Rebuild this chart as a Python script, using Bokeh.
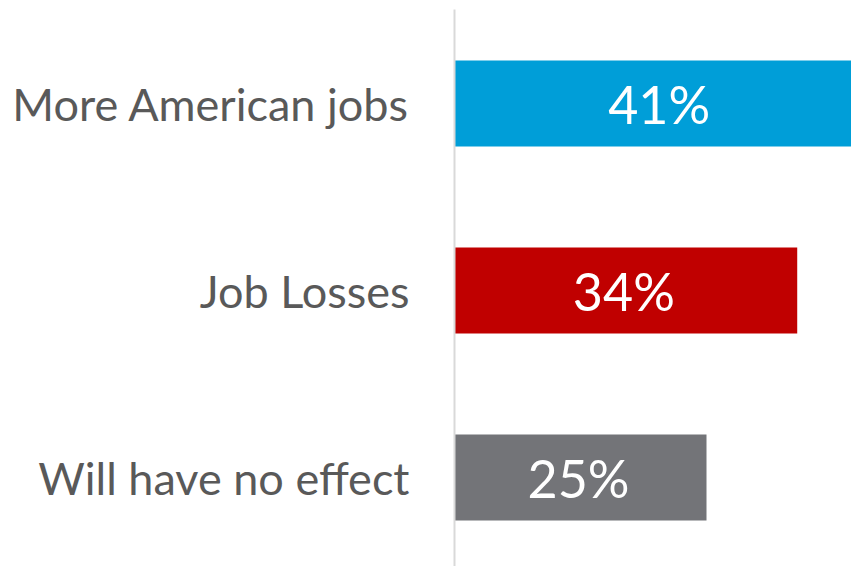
from bokeh.plotting import figure
from bokeh.models import Range1d, ColumnDataSource
from bokeh.core.properties import value
from bokeh.embed import file_html
from bokeh.resources import INLINE

categories = ["More American jobs", "Job Losses", "Will have no effect"]
values = [41, 34, 25]
colors = ["#009ED8", "#C00000", "#737478"]
value_labels = ["41%", "34%", "25%"]

idx = list(range(len(categories)))
src = ColumnDataSource(dict(
    y=idx, v=values, c=colors, cat=categories, lab=value_labels,
    mid=[v / 2 for v in values], zero=[0] * len(values)))

W, H = 851, 566
px_per = 10.08
x0_px = 454
top = -103 / 187.0
p = figure(width=W, height=H, output_backend="svg", toolbar_location=None,
           x_range=Range1d(-x0_px / px_per, (W - x0_px) / px_per),
           y_range=Range1d(top + H / 187.0, top),
           min_border=0, min_border_left=0, min_border_right=0,
           min_border_top=0, min_border_bottom=0)
p.axis.visible = False
p.grid.visible = False
p.outline_line_color = None
p.background_fill_color = "white"

p.hbar(y="y", left=0, right="v", height=0.46, fill_color="c", line_color=None, source=src)
p.segment(x0=[0], y0=[top + 9 / 187.0], x1=[0], y1=[top + H / 187.0],
          line_color="#D9D9D9", line_width=2)

p.text(x="zero", y="y", text="cat", source=src, text_align="right", text_baseline="middle",
       x_offset=-45, text_color="#595959", text_font=value("Lato"), text_font_size="45px")
p.text(x="mid", y="y", text="lab", source=src, text_align="center", text_baseline="middle",
       x_offset=-2, text_color="white", text_font=value("Lato"), text_font_size="52px")

open("out.html", "w").write(file_html(p, INLINE))
